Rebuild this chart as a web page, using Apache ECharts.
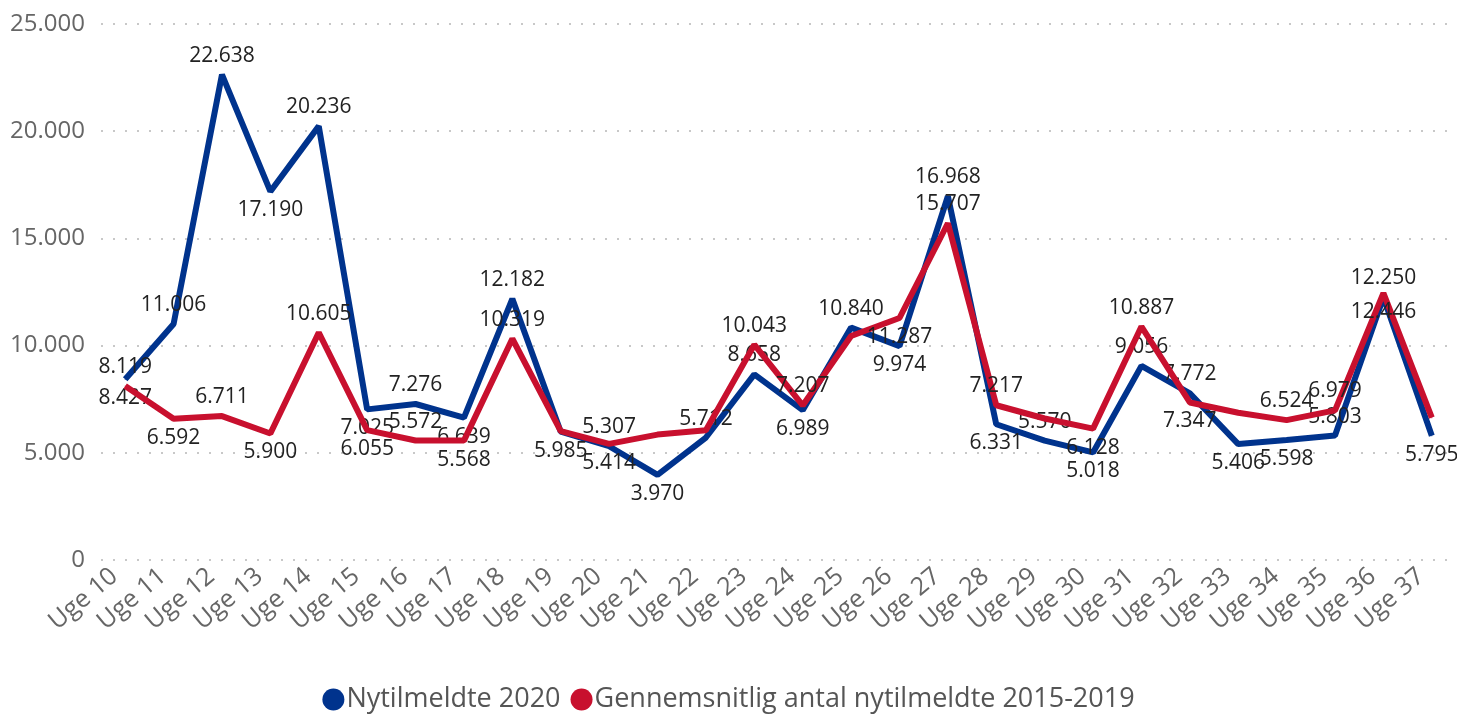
<!DOCTYPE html>
<html lang="da">
<head>
  <meta charset="UTF-8">
  <title>Nytilmeldte ledige</title>
  <style>
    html, body { margin: 0; padding: 0; background: #fff; }
    #chart { width: 1457px; height: 719px; }
  </style>
</head>
<body>
  <div id="chart"></div>
  <script src="https://cdn.jsdelivr.net/npm/echarts@6/dist/echarts.min.js"></script>
  <script>
    // data
    const weeks = ['Uge 10', 'Uge 11', 'Uge 12', 'Uge 13', 'Uge 14', 'Uge 15', 'Uge 16',
      'Uge 17', 'Uge 18', 'Uge 19', 'Uge 20', 'Uge 21', 'Uge 22', 'Uge 23', 'Uge 24',
      'Uge 25', 'Uge 26', 'Uge 27', 'Uge 28', 'Uge 29', 'Uge 30', 'Uge 31', 'Uge 32',
      'Uge 33', 'Uge 34', 'Uge 35', 'Uge 36', 'Uge 37'];
    const new2020 = [8427, 11006, 22638, 17190, 20236, 7025, 7276, 6639, 12182, 5985,
      5307, 3970, 5712, 8658, 6989, 10840, 9974, 16968, 6331, 5570, 5018, 9056, 7772,
      5406, 5598, 5803, 12250, 5795];
    // average 2015-2019; some points carry no label in the original, values estimated
    const avg1519 = [8119, 6592, 6711, 5900, 10605, 6055, 5572, 5568, 10319, 6010,
      5414, 5850, 6050, 10043, 7207, 10450, 11287, 15707, 7217, 6600, 6128, 10887, 7347,
      6870, 6524, 6979, 12446, 6640];
    const unlabelledAvg = [9, 11, 12, 15, 19, 23, 27];
    const yTicks = [0, 5000, 10000, 15000, 20000, 25000];

    // which side of the line each value label sits on (T = above, B = below)
    const sideNew = 'BTTBTBTBTBTBTTBTBTBTBTTBBTTB';
    const sideAvg = 'TBTBTBTBTTBTTTTTBTTTBTBTTTBT';

    const blue = '#00338D';
    const red = '#C8102E';
    const fmt = v => String(Math.round(v)).replace(/\B(?=(\d{3})+(?!\d))/g, '.');

    function points(vals, sides, hidden) {
      return vals.map((v, i) => ({
        value: v,
        label: {
          show: !hidden.includes(i),
          position: sides[i] === 'T' ? 'top' : 'bottom'
        }
      }));
    }

    const chart = echarts.init(document.getElementById('chart'));
    const labelStyle = {
      show: true,
      fontFamily: 'Open Sans',
      fontSize: 21,
      color: '#222',
      distance: 8,
      formatter: p => fmt(p.value)
    };

    chart.setOption({
      animation: false,
      textStyle: { fontFamily: 'Open Sans' },
      grid: { left: 101, right: 1, top: 24, bottom: 159 },
      legend: {
        bottom: 1,
        left: 'center',
        icon: 'circle',
        itemWidth: 22,
        itemHeight: 22,
        itemGap: 10,
        textStyle: { fontSize: 27, color: '#555', fontFamily: 'Open Sans', padding: [0, 0, 0, -3] },
        data: ['Nytilmeldte 2020', 'Gennemsnitlig antal nytilmeldte 2015-2019']
      },
      xAxis: {
        type: 'category',
        data: weeks,
        boundaryGap: true,
        axisLine: { show: false },
        axisTick: { show: false },
        axisLabel: {
          rotate: 40,
          interval: 0,
          margin: 4,
          padding: [0, 14, 0, 0],
          fontSize: 25,
          color: '#666',
          fontFamily: 'Open Sans'
        }
      },
      yAxis: {
        type: 'value',
        min: yTicks[0],
        max: yTicks[yTicks.length - 1],
        interval: 5000,
        axisLabel: {
          margin: 16,
          fontSize: 24,
          color: '#666',
          fontFamily: 'Open Sans',
          formatter: v => fmt(v)
        },
        splitLine: {
          lineStyle: { type: [2, 10], color: '#c8c8c8', width: 2 }
        }
      },
      series: [
        {
          name: 'Nytilmeldte 2020',
          type: 'line',
          data: points(new2020, sideNew, []),
          color: blue,
          lineStyle: { width: 6, color: blue },
          symbol: 'circle',
          symbolSize: 1,
          showSymbol: true,
          label: labelStyle,
          labelLayout: { hideOverlap: false },
          z: 2
        },
        {
          name: 'Gennemsnitlig antal nytilmeldte 2015-2019',
          type: 'line',
          data: points(avg1519, sideAvg, unlabelledAvg),
          color: red,
          lineStyle: { width: 6, color: red },
          symbol: 'circle',
          symbolSize: 1,
          showSymbol: true,
          label: labelStyle,
          labelLayout: { hideOverlap: false },
          z: 3
        }
      ]
    });
  </script>
</body>
</html>
